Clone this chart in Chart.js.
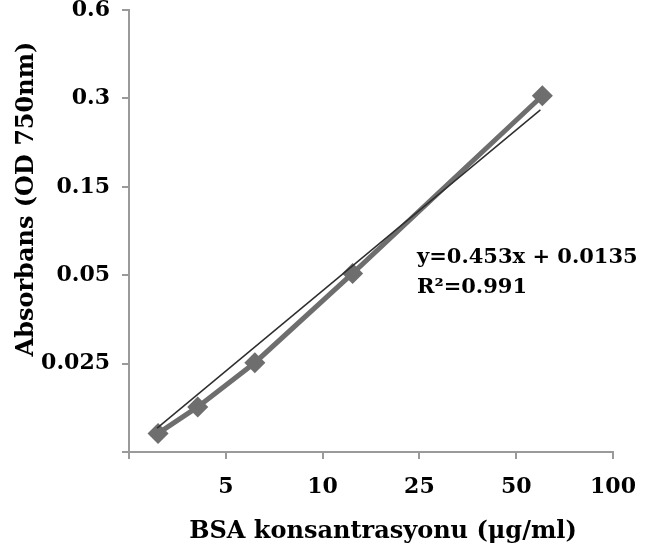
<!DOCTYPE html>
<html>
<head>
<meta charset="utf-8">
<script src="https://cdn.jsdelivr.net/npm/chart.js@4.4.1/dist/chart.umd.min.js"></script>
<style>
  html, body { margin: 0; padding: 0; background: #fff; }
  #wrap { width: 651px; height: 549px; position: relative; }
</style>
</head>
<body>
<div id="wrap"><canvas id="chart"></canvas></div>
<script>
// tick labels (axes are evenly spaced categories, not a true scale)
const xTickLabels = ['', '5', '10', '25', '50', '100'];
const yTickLabels = ['', '0.025', '0.05', '0.15', '0.3', '0.6'];

// measured points, in tick-slot units
const concPos = [0.30, 0.71, 1.30, 2.31, 4.27];
const absPos = [0.21, 0.51, 1.01, 2.02, 4.03];

// linear trend line end points
const trendX = [0.29, 4.25];
const trendY = [0.27, 3.87];

const xTitle = 'BSA konsantrasyonu (μg/ml)';
const yTitle = 'Absorbans (OD 750nm)';
const eqText = 'y=0.453x + 0.0135';
const r2Text = 'R²=0.991';

const FONT = "'DejaVu Serif', serif";
const axisGray = '#9a9a9a';

const textPlugin = {
    id: 'textPlugin',
    afterDraw(chart) {
        const ctx = chart.ctx;
        const area = chart.chartArea;
        ctx.save();
        ctx.fillStyle = '#000';

        // x axis title
        ctx.font = `bold 24px ${FONT}`;
        ctx.textAlign = 'center';
        ctx.textBaseline = 'middle';
        ctx.fillText(xTitle, 383, 532);

        // y axis title
        ctx.translate(27, 199);
        ctx.rotate(-Math.PI / 2);
        ctx.fillText(yTitle, 0, 0);
        ctx.setTransform(1, 0, 0, 1, 0, 0);

        // regression text
        ctx.font = `bold 21px ${FONT}`;
        ctx.textAlign = 'left';
        ctx.textBaseline = 'alphabetic';
        ctx.fillText(eqText, area.left + 288, 263);
        ctx.fillText(r2Text, area.left + 288, 293);
        ctx.restore();
    }
};

const ctx = document.getElementById('chart');

new Chart(ctx, {
    type: 'scatter',
    data: {
        datasets: [
            {
                label: 'data',
                data: concPos.map((x, i) => ({ x: x, y: absPos[i] })),
                showLine: true,
                borderColor: '#6e6e6e',
                backgroundColor: '#6e6e6e',
                borderWidth: 5,
                pointStyle: 'rectRot',
                pointRadius: 7,
                pointHoverRadius: 7,
                order: 2
            },
            {
                label: 'trend',
                data: trendX.map((x, i) => ({ x: x, y: trendY[i] })),
                showLine: true,
                borderColor: '#2e2e2e',
                borderWidth: 1.5,
                pointRadius: 0,
                order: 1
            }
        ]
    },
    options: {
        responsive: true,
        maintainAspectRatio: false,
        animation: false,
        layout: {
            autoPadding: false,
            padding: { left: 0, top: 10, right: 38, bottom: 0 }
        },
        plugins: {
            legend: { display: false },
            tooltip: { enabled: false }
        },
        scales: {
            x: {
                type: 'linear',
                min: 0,
                max: 5,
                afterFit: (scale) => {
                    scale.height = 97;
                    scale.paddingLeft = 0;
                    scale.paddingRight = 0;
                },
                border: { color: axisGray, width: 2 },
                grid: {
                    drawOnChartArea: false,
                    drawTicks: true,
                    tickLength: 7,
                    color: axisGray,
                    lineWidth: 2
                },
                ticks: {
                    stepSize: 1,
                    autoSkip: false,
                    maxRotation: 0,
                    padding: 15,
                    color: '#000',
                    font: { family: FONT, size: 22, weight: 'bold' },
                    callback: (v) => xTickLabels[v] ?? ''
                }
            },
            y: {
                type: 'linear',
                min: 0,
                max: 5,
                afterFit: (scale) => {
                    scale.width = 129;
                    scale.paddingTop = 0;
                    scale.paddingBottom = 0;
                },
                border: { color: axisGray, width: 2 },
                grid: {
                    drawOnChartArea: false,
                    drawTicks: true,
                    tickLength: 7,
                    color: axisGray,
                    lineWidth: 2
                },
                ticks: {
                    stepSize: 1,
                    autoSkip: false,
                    padding: 12,
                    color: '#000',
                    font: { family: FONT, size: 22, weight: 'bold' },
                    callback: (v) => yTickLabels[v] ?? ''
                }
            }
        }
    },
    plugins: [textPlugin]
});
</script>
</body>
</html>
